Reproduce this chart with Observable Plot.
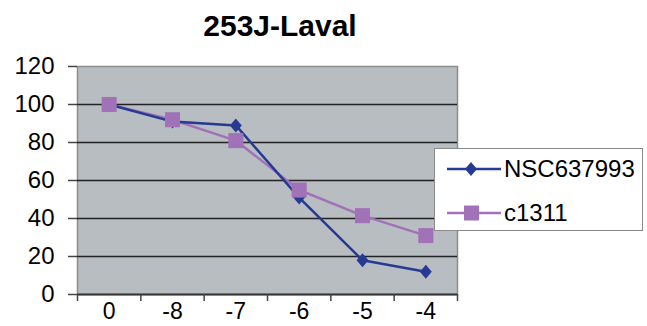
<!DOCTYPE html>
<html><head><meta charset="utf-8">
<script src="https://cdn.jsdelivr.net/npm/d3@7"></script>
<script src="https://cdn.jsdelivr.net/npm/@observablehq/plot@0.6"></script>
<style>
body{margin:0;background:#fff;font-family:"Liberation Sans",Arial,sans-serif;}
#wrap{position:relative;width:647px;height:326px;overflow:hidden;}
#title{position:absolute;left:0;top:11px;width:560px;text-align:center;font-size:30px;line-height:30px;font-weight:bold;color:#000;}
#legend{position:absolute;left:434px;top:148px;width:207px;height:81px;background:#fff;border:1px solid #8a8a8a;}
.row{position:absolute;left:12px;height:28px;display:flex;align-items:center;font-size:24px;color:#000;}
.row svg{margin-right:3px}
</style></head>
<body><div id="wrap"></div>
<script>
const title = "253J-Laval";
const categories = ["0", "-8", "-7", "-6", "-5", "-4"];
const seriesNames = ["NSC637993", "c1311"];
const nsc = [100, 91, 89, 51, 18, 12];
const c1311 = [100, 92, 81, 55, 41.5, 31];
const yTicks = [0, 20, 40, 60, 80, 100, 120];
const colors = ["#263a94", "#a272b8"];

const data = [];
categories.forEach((c, i) => {
  data.push({i, cat: c, series: seriesNames[0], v: nsc[i]});
  data.push({i, cat: c, series: seriesNames[1], v: c1311[i]});
});
const idx = categories.map((c, i) => i);
const edges = d3.range(-0.5, categories.length, 1);

const diamond = {
  draw(ctx, size) {
    const h = Math.sqrt(size / Math.PI);
    ctx.moveTo(0, -h); ctx.lineTo(0.85 * h, 0); ctx.lineTo(0, h); ctx.lineTo(-0.85 * h, 0); ctx.closePath();
  }
};

const font = "'Liberation Sans', Arial, sans-serif";
const chart = Plot.plot({
  width: 647, height: 326,
  marginLeft: 77, marginRight: 190, marginTop: 66, marginBottom: 32,
  style: {fontFamily: font, fontSize: "24px", color: "#000", background: "transparent", overflow: "visible"},
  x: {domain: [-0.5, categories.length - 0.5], axis: null},
  y: {domain: [0, 120], axis: null},
  marks: [
    Plot.frame({fill: "#b7bdc1", stroke: "#8c8c8c", strokeWidth: 1.5}),
    Plot.ruleY(yTicks.filter(t => t > 0 && t < 120), {stroke: "#222", strokeWidth: 1.5}),
    Plot.axisY({ticks: yTicks, label: null, tickSize: 9, tickPadding: 14, tickFormat: d => String(d), fontSize: 24, stroke: "#444", strokeWidth: 1.5}),
    Plot.ruleY([0], {stroke: "#333", strokeWidth: 2, x1: -0.5, x2: categories.length - 0.5}),
    Plot.axisX({ticks: edges, label: null, tickSize: 7, tickFormat: () => "", stroke: "#444", strokeWidth: 1.5}),
    Plot.axisX({ticks: idx, label: null, tickSize: 0, tickPadding: 8, tickFormat: i => categories[i], fontSize: 23}),
    Plot.line(data.filter(d => d.series === seriesNames[1]), {x: "i", y: "v", stroke: colors[1], strokeWidth: 2.5}),
    Plot.line(data.filter(d => d.series === seriesNames[0]), {x: "i", y: "v", stroke: colors[0], strokeWidth: 2.5}),
    Plot.dot(data.filter(d => d.series === seriesNames[0]), {x: "i", y: "v", symbol: diamond, r: 7, fill: colors[0], stroke: "none"}),
    Plot.dot(data.filter(d => d.series === seriesNames[1]), {x: "i", y: "v", symbol: "square", r: 8.5, fill: colors[1], stroke: "none"})
  ]
});
const wrap = document.getElementById("wrap");
wrap.appendChild(chart);

const t = document.createElement("div");
t.id = "title";
t.textContent = title;
wrap.appendChild(t);

const legend = document.createElement("div");
legend.id = "legend";
const sym = [
  '<polygon points="24,7 30,14 24,21 18,14" fill="' + colors[0] + '"/>',
  '<rect x="17" y="6.5" width="15" height="15" fill="' + colors[1] + '"/>'
];
seriesNames.forEach((s, k) => {
  const row = document.createElement("div");
  row.className = "row";
  row.style.top = (k === 0 ? 6 : 50) + "px";
  row.innerHTML = '<svg width="54" height="28"><line x1="0" x2="54" y1="14" y2="14" stroke="' + colors[k] + '" stroke-width="2.5"/>' + sym[k] + '</svg><span>' + s + '</span>';
  legend.appendChild(row);
});
wrap.appendChild(legend);
</script></body></html>
